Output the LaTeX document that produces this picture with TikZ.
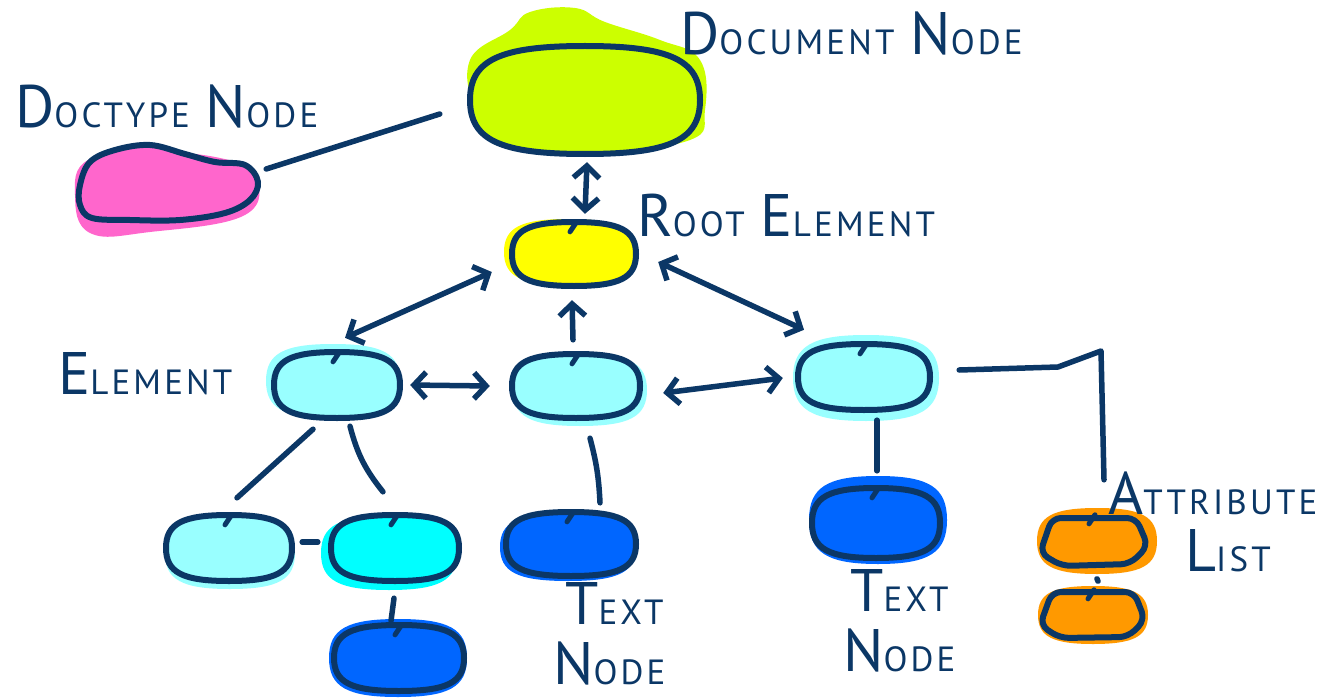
\documentclass[tikz,border=0pt]{standalone}
\usepackage{fontspec}
\newfontfamily\hand[LetterSpace=9]{PT Sans}
\usetikzlibrary{arrows.meta,calc}
\definecolor{ink}{HTML}{0B3766}
\definecolor{limeC}{HTML}{CCFF00}
\definecolor{pinkC}{HTML}{FF66CC}
\definecolor{yellowC}{HTML}{FFFF00}
\definecolor{lcyanC}{HTML}{99FFFF}
\definecolor{cyanC}{HTML}{00FFFF}
\definecolor{blueC}{HTML}{0066FF}
\definecolor{orangeC}{HTML}{FF9900}
\newcommand\hw[2]{{\fontsize{60}{60}\selectfont #1}{\fontsize{35}{35}\selectfont #2}}
% squircle-like closed curve: style, cx, cy, half width, half height
\newcommand\sblob[5]{\path[#1] (#2+#4,#3)
  .. controls (#2+#4,#3+0.74*#5) and (#2+0.74*#4,#3+#5) .. (#2,#3+#5)
  .. controls (#2-0.74*#4,#3+#5) and (#2-#4,#3+0.74*#5) .. (#2-#4,#3)
  .. controls (#2-#4,#3-0.74*#5) and (#2-0.74*#4,#3-#5) .. (#2,#3-#5)
  .. controls (#2+0.74*#4,#3-#5) and (#2+#4,#3-0.74*#5) .. (#2+#4,#3) -- cycle;}
% named node with a blob outline: name, fill, cx, cy, half width, half height
\newcommand\bnode[6]{%
  \node[inner sep=0pt, minimum width=2*#5 pt, minimum height=2*#6 pt] (#1) at (#3,#4) {};
  \sblob{outline, fill=#2}{#3}{#4}{#5}{#6}}
\begin{document}
\begin{tikzpicture}[x=1pt,y=-1pt,
  outline/.style={draw=ink, line width=6pt, line join=round},
  conn/.style={draw=ink, line width=5.5pt, line cap=round, line join=round},
  arr/.style={conn, -{Straight Barb[length=12pt,width=26pt]}},
  darr/.style={conn, {Straight Barb[length=12pt,width=26pt]}-{Straight Barb[length=12pt,width=26pt]}},
  tick/.style={draw=ink, line width=5pt, line cap=round},
  lbl/.style={text=ink, font=\hand, anchor=base west, inner sep=0pt}
]
\useasboundingbox (0,0) rectangle (1343,698);
\fill[white] (0,0) rectangle (1343,698);

% colour spills
\fill[limeC] plot[smooth cycle, tension=0.7] coordinates {(510,30) (530,12) (575,8) (605,22) (660,40) (700,60) (705,110) (690,140) (600,150) (520,138) (478,110) (470,60)};
\fill[pinkC] plot[smooth cycle, tension=0.7] coordinates {(75,195) (88,160) (150,152) (220,158) (255,175) (245,215) (150,232) (90,233)};
\sblob{fill=yellowC}{568}{252}{64}{33}
\sblob{fill=lcyanC}{333}{381}{67}{37}
\sblob{fill=lcyanC}{580}{390}{67}{36}
\sblob{fill=lcyanC}{866}{378}{73}{43}
\sblob{fill=lcyanC}{230}{553}{65}{36}
\sblob{fill=cyanC}{389}{553}{68}{37}
\sblob{fill=blueC}{568}{547}{68}{34}
\sblob{fill=blueC}{398}{658}{69}{39}
\sblob{fill=blueC}{878}{520}{69}{44}
\sblob{fill=orangeC}{1097}{541}{60}{33}
\sblob{fill=orangeC}{1093}{615}{55}{29}

% nodes
\bnode{doc}{limeC}{585}{100}{115}{54}
\node[inner sep=0pt, minimum width=180pt, minimum height=76pt] (doctype) at (168,182) {};
\draw[outline, fill=pinkC] plot[smooth cycle, tension=0.6] coordinates {(80,185) (90,162) (115,150) (150,145) (185,154) (215,162) (245,165) (258,182) (250,200) (225,213) (180,220) (130,220) (92,218) (80,205)};
\bnode{root}{yellowC}{574}{254}{62}{32}
\bnode{el1}{lcyanC}{337}{385}{63}{33}
\bnode{el2}{lcyanC}{576}{386}{64}{32}
\bnode{el3}{lcyanC}{864}{377}{66}{33}
\bnode{b1}{lcyanC}{229}{548}{63}{33}
\bnode{b2}{cyanC}{395}{548}{64}{33}
\bnode{t1}{blueC}{571}{544}{65}{32}
\bnode{b3}{blueC}{399}{658}{65}{33}
\bnode{t2}{blueC}{876}{523}{64}{35}
\node[inner sep=0pt, minimum width=108pt, minimum height=52pt] (a1) at (1093,540) {};
\draw[outline, fill=orangeC, rounded corners=9pt] (1052,518) -- (1136,518) -- (1148,546) -- (1130,564) -- (1062,566) -- (1040,553) -- cycle;
\node[inner sep=0pt, minimum width=104pt, minimum height=50pt] (a2) at (1092,614) {};
\draw[outline, fill=orangeC, rounded corners=9pt] (1052,592) -- (1134,592) -- (1145,620) -- (1128,637) -- (1060,638) -- (1040,625) -- cycle;

% ticks at the top of each blob
\foreach \n in {root,el1,el2,el3,b1,b2,t1,b3,t2,a1,a2}
  \draw[tick] ([shift={(2,1)}]\n.north) -- ++(-6,9);

% connectors
\draw[conn] ([shift={(8,-13)}]doctype.east) -- ([shift={(-30,14)}]doc.west);
\draw[darr] ([shift={(2,8)}]doc.south) -- ([shift={(11,-8)}]root.north);
\draw[darr] ([shift={(8,-14)}]el1.north) -- ([shift={(-20,18)}]root.west);
\draw[arr] ([shift={(-3,-14)}]el2.north) -- ([shift={(-2,14)}]root.south);
\draw[darr] ([shift={(22,8)}]root.east) -- ([shift={(-60,-14)}]el3.north);
\draw[darr] ([shift={(10,0)}]el1.east) -- ([shift={(-22,0)}]el2.west);
\draw[darr] ([shift={(23,7)}]el2.east) -- ([shift={(-15,1)}]el3.west);
\draw[conn] ([shift={(-24,11)}]el1.south) -- ([shift={(8,-17)}]b1.north);
\draw[conn] ([shift={(13,8)}]el1.south) to[bend right=12] ([shift={(-12,-23)}]b2.north);
\draw[conn] ([shift={(10,-6)}]b1.east) -- ([shift={(-13,-6)}]b2.west);
\draw[conn] ([shift={(-1,17)}]b2.south) -- ([shift={(-8,-4)}]b3.north);
\draw[conn] ([shift={(14,20)}]el2.south) to[bend left=6] ([shift={(29,-9)}]t1.north);
\draw[conn] ([shift={(13,10)}]el3.south) -- ([shift={(1,-17)}]t2.north);
\coordinate (k1) at (1058,367);
\coordinate (k2) at (1101,351);
\draw[conn] ([shift={(29,-7)}]el3.east) -- (k1) -- (k2) -- ([shift={(11,-34)}]a1.north);
\draw[conn] ([shift={(5,15)}]a1.south) -- ([shift={(5,-10)}]a2.north);

% labels
\node[lbl] (ldoc) at (680,55) {\hw{D}{OCUMENT}\hspace{16pt}\hw{N}{ODE}};
\node[lbl] (ldt) at (15,128) {\hw{D}{OCTYPE}\hspace{16pt}\hw{N}{ODE}};
\node[lbl] (lroot) at (637,236) {\hw{R}{OOT}\hspace{16pt}\hw{E}{LEMENT}};
\node[lbl] (lel) at (58,394) {\hw{E}{LEMENT}};
\node[lbl] (lt1a) at (565,624) {\hw{T}{EXT}};
\node[lbl] (lt1b) at (553,684) {\hw{N}{ODE}};
\node[lbl] (lt2a) at (850,611) {\hw{T}{EXT}};
\node[lbl] (lt2b) at (843,671) {\hw{N}{ODE}};
\node[lbl] (la1) at (1108,514) {\hw{A}{TTRIBUTE}};
\node[lbl] (la2) at (1185,571) {\hw{L}{IST}};
\end{tikzpicture}
\end{document}
